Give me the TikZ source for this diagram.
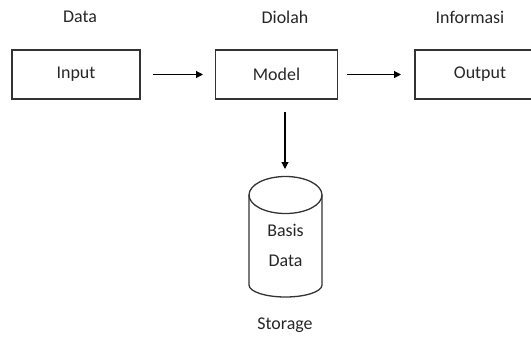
\documentclass[tikz,border=0pt]{standalone}
\usepackage{fontspec}
\setmainfont{Carlito}
\usetikzlibrary{arrows.meta}
\begin{document}
\begin{tikzpicture}[x=1bp,y=-1bp,
  box/.style={draw=black!80,line width=1.3bp,minimum width=122bp,minimum height=49bp,inner sep=0pt,font=\fontsize{18}{21}\selectfont,text=black!85},
  lbl/.style={font=\fontsize{18}{21}\selectfont,text=black!85},
  conn/.style={line width=1.1bp,-{Triangle[length=7bp,width=7bp]}},
  dbline/.style={draw=black!80,line width=1.3bp},
  dbtext/.style={align=center,inner sep=0pt,font=\fontsize{18}{30}\selectfont,text=black!85}]
\useasboundingbox (0,0) rectangle (531,339);
\begin{scope}
\clip (0,0) rectangle (531,339);
\node[box,minimum width=128bp] (in) at (76,74.5) {Input};
\node[box] (mo) at (276.5,74.5) {Model};
\node[box] (out) at (476,74.5) {};
\end{scope}
\node[lbl] at (480,74.5) {Output};
\node[lbl] (ld) at (80,17) {Data};
\node[lbl] (lm) at (285,17) {Diolah};
\node[lbl] (li) at (470,17) {Informasi};
% cylinder
\draw[dbline] (285.5,195) ellipse [x radius=36.5, y radius=18.5];
\draw[dbline] (249,195) -- (249,285) arc[start angle=180,end angle=0,x radius=36.5,y radius=12] -- (322,195);
\node[dbtext] (bd) at (285.5,245) {Basis\\Data};
\node[lbl] (st) at (285,325) {Storage};
\coordinate (a1s) at (153,74.5);
\coordinate (a1e) at (203,74.5);
\coordinate (a2s) at (347,74.5);
\coordinate (a2e) at (401,74.5);
\coordinate (a3s) at (285,112);
\coordinate (a3e) at (285,169);
\draw[conn] (a1s) -- (a1e);
\draw[conn] (a2s) -- (a2e);
\draw[conn] (a3s) -- (a3e);
\end{tikzpicture}
\end{document}
